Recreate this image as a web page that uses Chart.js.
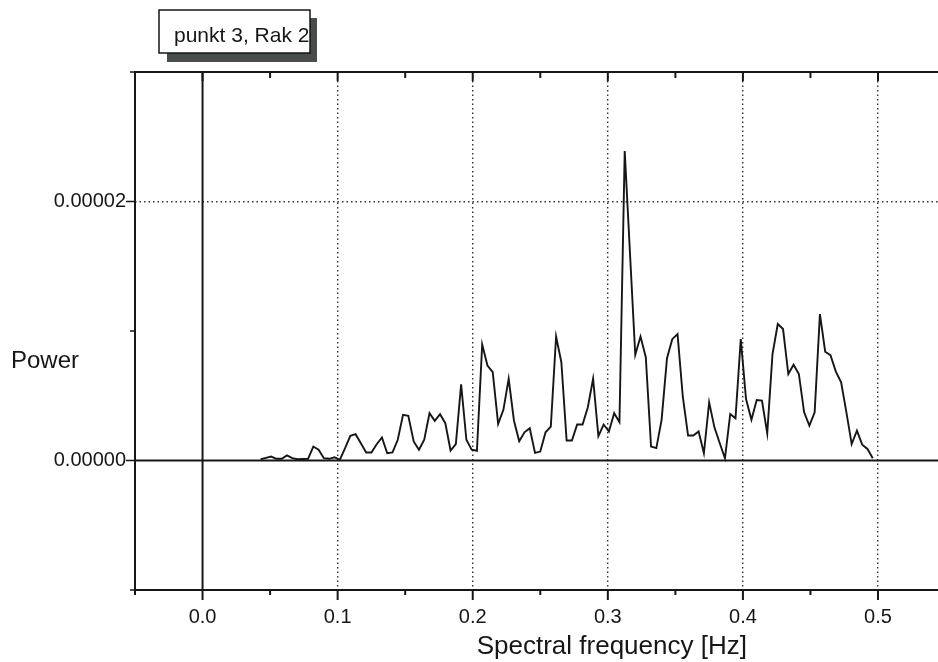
<!DOCTYPE html>
<html lang="de">
    <head>
        <meta charset="utf-8" />
        <script src="https://cdn.jsdelivr.net/npm/chart.js@4/dist/chart.umd.min.js"></script>
        <title>punkt 3, Rak 2</title>
        <style>
            body { margin: 0; background: #fff; }
        </style>
    </head>
    <body>
        <canvas id="widmo" width="938" height="662"></canvas>
        <script>
            // Frequenzen (Hz), Schritt 1/256
            const freq = [0.0430, 0.0469, 0.0508, 0.0547, 0.0586, 0.0625, 0.0664, 0.0703, 0.0742, 0.0781,
                0.0820, 0.0859, 0.0898, 0.0938, 0.0977, 0.1016, 0.1055, 0.1094, 0.1133, 0.1172,
                0.1211, 0.1250, 0.1289, 0.1328, 0.1367, 0.1406, 0.1445, 0.1484, 0.1523, 0.1563,
                0.1602, 0.1641, 0.1680, 0.1719, 0.1758, 0.1797, 0.1836, 0.1875, 0.1914, 0.1953,
                0.1992, 0.2031, 0.2070, 0.2109, 0.2148, 0.2188, 0.2227, 0.2266, 0.2305, 0.2344,
                0.2383, 0.2422, 0.2461, 0.2500, 0.2539, 0.2578, 0.2617, 0.2656, 0.2695, 0.2734,
                0.2773, 0.2813, 0.2852, 0.2891, 0.2930, 0.2969, 0.3008, 0.3047, 0.3086, 0.3125,
                0.3164, 0.3203, 0.3242, 0.3281, 0.3320, 0.3359, 0.3398, 0.3438, 0.3477, 0.3516,
                0.3555, 0.3594, 0.3633, 0.3672, 0.3711, 0.3750, 0.3789, 0.3828, 0.3867, 0.3906,
                0.3945, 0.3984, 0.4023, 0.4063, 0.4102, 0.4141, 0.4180, 0.4219, 0.4258, 0.4297,
                0.4336, 0.4375, 0.4414, 0.4453, 0.4492, 0.4531, 0.4570, 0.4609, 0.4648, 0.4688,
                0.4727, 0.4766, 0.4805, 0.4844, 0.4883, 0.4922, 0.4961];
            // Leistung
            const power = [0.10e-6, 0.20e-6, 0.30e-6, 0.13e-6, 0.13e-6, 0.39e-6, 0.18e-6, 0.10e-6, 0.12e-6, 0.13e-6,
                1.08e-6, 0.83e-6, 0.18e-6, 0.13e-6, 0.25e-6, 0.05e-6, 0.95e-6, 1.91e-6, 2.03e-6, 1.34e-6,
                0.62e-6, 0.62e-6, 1.26e-6, 1.78e-6, 0.56e-6, 0.62e-6, 1.60e-6, 3.53e-6, 3.45e-6, 1.47e-6,
                0.83e-6, 1.60e-6, 3.65e-6, 3.06e-6, 3.57e-6, 2.88e-6, 0.77e-6, 1.26e-6, 5.89e-6, 1.60e-6,
                0.83e-6, 0.75e-6, 8.96e-6, 7.33e-6, 6.82e-6, 2.83e-6, 3.91e-6, 6.31e-6, 3.09e-6, 1.49e-6,
                2.18e-6, 2.49e-6, 0.59e-6, 0.69e-6, 2.18e-6, 2.62e-6, 9.57e-6, 7.59e-6, 1.54e-6, 1.54e-6,
                2.78e-6, 2.78e-6, 4.11e-6, 6.31e-6, 1.88e-6, 2.78e-6, 2.24e-6, 3.65e-6, 2.96e-6, 23.9e-6,
                16.0e-6, 8.16e-6, 9.57e-6, 7.98e-6, 1.08e-6, 0.96e-6, 3.14e-6, 7.90e-6, 9.37e-6, 9.76e-6,
                4.94e-6, 1.93e-6, 1.93e-6, 2.24e-6, 0.56e-6, 4.49e-6, 2.56e-6, 1.35e-6, 0.17e-6, 3.59e-6,
                3.26e-6, 9.38e-6, 4.75e-6, 3.15e-6, 4.67e-6, 4.62e-6, 2.10e-6, 8.22e-6, 10.54e-6, 10.15e-6,
                6.68e-6, 7.40e-6, 6.68e-6, 3.72e-6, 2.69e-6, 3.72e-6, 11.31e-6, 8.40e-6, 8.14e-6, 6.86e-6,
                6.04e-6, 3.72e-6, 1.27e-6, 2.30e-6, 1.22e-6, 0.89e-6, 0.17e-6];

            // Achsen
            const xMajor = [0, 0.1, 0.2, 0.3, 0.4, 0.5];
            const xMinor = [-0.05, 0.05, 0.15, 0.25, 0.35, 0.45];
            const xGrid = [0.1, 0.2, 0.3, 0.4, 0.5];
            const yMajor = [0, 0.00002];
            const yMinor = [-0.00001, 0.00001, 0.00003];
            const yGrid = [0.00002];

            const schrift = "'Liberation Sans', Arial, sans-serif";
            const tinte = "#161616";
            const gleich = (a, b) => Math.abs(a - b) < 1e-9;
            const inListe = (v, liste) => liste.some(w => gleich(v, w));

            // Rahmen, Nulllinien, Teilstriche, Beschriftung, Legende
            const rahmen = {
                id: "rahmen",
                beforeDatasetsDraw(chart) {
                    const {ctx, chartArea: a, scales: {x, y}} = chart;
                    ctx.save();
                    ctx.strokeStyle = tinte;
                    const linie = (x1, y1, x2, y2, w) => {
                        ctx.lineWidth = w;
                        ctx.beginPath();
                        ctx.moveTo(x1, y1);
                        ctx.lineTo(x2, y2);
                        ctx.stroke();
                    };
                    linie(a.left, a.top, a.right, a.top, 2);
                    linie(a.left, a.top - 1, a.left, a.bottom + 1, 2);
                    linie(a.left, a.bottom, a.right, a.bottom, 2);
                    const y0 = y.getPixelForValue(0);
                    const x0 = x.getPixelForValue(0);
                    linie(a.left, y0, a.right, y0, 2);
                    linie(x0, a.top, x0, a.bottom, 2);
                    xMajor.forEach(v => {
                        const px = x.getPixelForValue(v);
                        linie(px, a.bottom, px, a.bottom + 10, 2);
                        linie(px, a.top, px, a.top + 9, 2);
                    });
                    xMinor.forEach(v => {
                        const px = x.getPixelForValue(v);
                        linie(px, a.bottom, px, a.bottom + 5, 2);
                        linie(px, a.top, px, a.top + 6, 2);
                    });
                    yMajor.forEach(v => {
                        const py = y.getPixelForValue(v);
                        linie(a.left - 9, py, a.left, py, 1.5);
                    });
                    yMinor.forEach(v => {
                        const py = y.getPixelForValue(v);
                        linie(a.left - 5, py, a.left, py, 1.5);
                    });
                    ctx.restore();
                },
                afterDraw(chart) {
                    const {ctx, scales: {x}} = chart;
                    ctx.save();
                    ctx.fillStyle = tinte;
                    ctx.textBaseline = "alphabetic";
                    ctx.font = "24px " + schrift;
                    ctx.textAlign = "left";
                    ctx.fillText("Power", 11, 368);
                    ctx.font = "26px " + schrift;
                    ctx.textAlign = "center";
                    ctx.fillText("Spectral frequency [Hz]", x.getPixelForValue(0.3) + 4, 654);
                    // Legende mit Schatten
                    ctx.fillStyle = "#474d4d";
                    ctx.fillRect(167, 18, 150, 44);
                    ctx.fillStyle = "#fff";
                    ctx.fillRect(159, 10, 151, 43);
                    ctx.strokeStyle = tinte;
                    ctx.lineWidth = 1.5;
                    ctx.strokeRect(159, 10, 151, 43);
                    ctx.beginPath();
                    ctx.rect(160, 11, 149, 41);
                    ctx.clip();
                    ctx.fillStyle = tinte;
                    ctx.font = "21px " + schrift;
                    ctx.textAlign = "left";
                    ctx.fillText("punkt 3, Rak 2", 174, 41.5);
                    ctx.restore();
                }
            };

            new Chart(document.getElementById("widmo").getContext("2d"), {
                type: "line",
                data: {
                    datasets: [{
                        label: "punkt 3, Rak 2",
                        data: freq.map((f, i) => ({x: f, y: power[i]})),
                        borderColor: tinte,
                        borderWidth: 1.9,
                        pointRadius: 0,
                        tension: 0,
                        fill: false
                    }]
                },
                options: {
                    responsive: false,
                    animation: false,
                    devicePixelRatio: 1,
                    layout: { padding: { top: 72, left: 0, right: 0, bottom: 0 } },
                    plugins: {
                        legend: { display: false },
                        tooltip: { enabled: false }
                    },
                    scales: {
                        x: {
                            type: "linear",
                            min: -0.05,
                            max: 0.5444,
                            afterBuildTicks: s => {
                                s.ticks = xMinor.concat(xMajor).sort((a, b) => a - b).map(v => ({value: v}));
                            },
                            afterFit: s => { s.height = 72; },
                            border: { display: false, dash: [1.5, 3] },
                            grid: {
                                drawTicks: false,
                                lineWidth: 1.4,
                                color: c => inListe(c.tick.value, xGrid) ? "#333" : "rgba(0,0,0,0)"
                            },
                            ticks: {
                                autoSkip: false,
                                maxRotation: 0,
                                padding: 15,
                                color: tinte,
                                font: { family: schrift, size: 20 },
                                callback: v => inListe(v, xMajor) ? v.toFixed(1) : ""
                            }
                        },
                        y: {
                            min: -0.00001,
                            max: 0.00003,
                            afterFit: s => { s.width = 135; },
                            border: { display: false, dash: [1.5, 3] },
                            grid: {
                                drawTicks: false,
                                lineWidth: 1.4,
                                color: c => inListe(c.tick.value, yGrid) ? "#333" : "rgba(0,0,0,0)"
                            },
                            ticks: {
                                stepSize: 0.00001,
                                padding: 9,
                                color: tinte,
                                font: { family: schrift, size: 20 },
                                callback: v => inListe(v, yMajor) ? v.toFixed(5) : ""
                            }
                        }
                    }
                },
                plugins: [rahmen]
            });
        </script>
    </body>
</html>
